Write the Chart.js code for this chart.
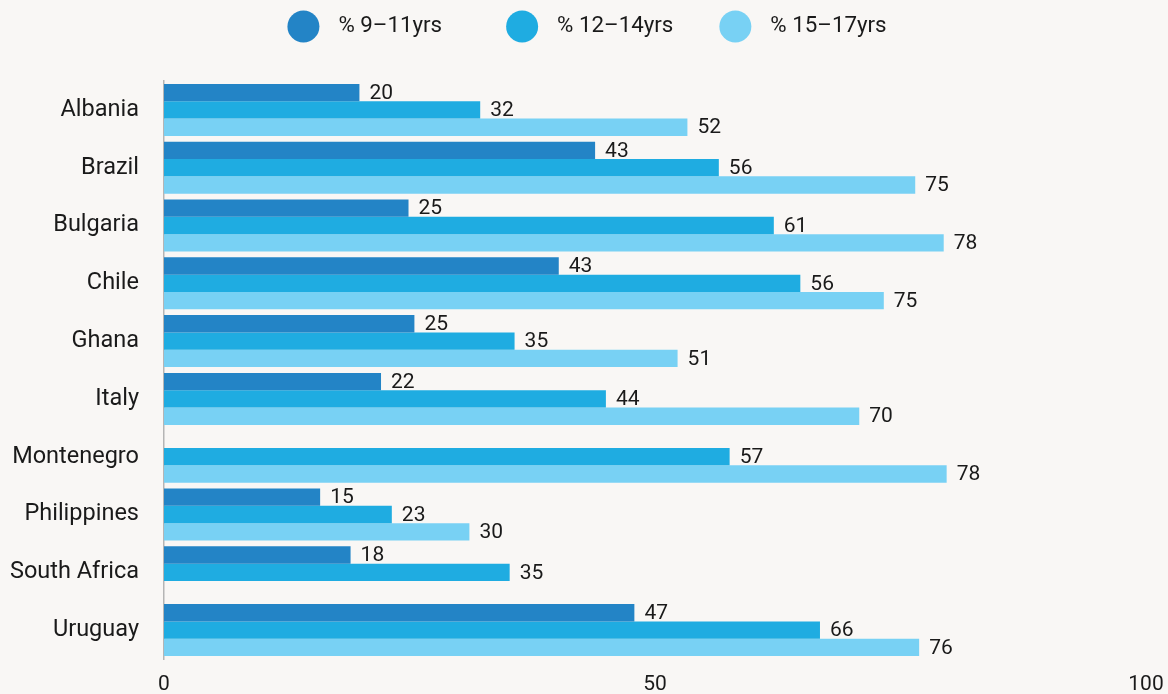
<!DOCTYPE html>
<html><head><meta charset="utf-8">
<script src="https://cdn.jsdelivr.net/npm/chart.js@4.4.1/dist/chart.umd.min.js"></script>
<style>
html,body{margin:0;padding:0;background:#f9f7f5;overflow:hidden;}
#wrap{width:1168px;height:694px;position:relative;}
</style>
</head><body>
<div id="wrap"><canvas id="c"></canvas></div>
<script>
const categories = ['Albania','Brazil','Bulgaria','Chile','Ghana','Italy','Montenegro','Philippines','South Africa','Uruguay'];
const seriesNames = ['% 9–11yrs','% 12–14yrs','% 15–17yrs'];
const seriesColors = ['#2384c6','#1face1','#78d1f4'];
// bar lengths as drawn in the picture
const values9to11  = [19.9, 43.9, 24.9, 40.2, 25.5, 22.1, null, 15.9, 19.0, 47.9];
const values12to14 = [32.2, 56.5, 62.1, 64.8, 35.7, 45.0, 57.6, 23.2, 35.2, 66.8];
const values15to17 = [53.3, 76.5, 79.4, 73.3, 52.3, 70.8, 79.7, 31.1, null, 76.9];
// numbers printed next to the bars
const labels9to11  = ['20','43','25','43','25','22',null,'15','18','47'];
const labels12to14 = ['32','56','61','56','35','44','57','23','35','66'];
const labels15to17 = ['52','75','78','75','51','70','78','30',null,'76'];
const xTicks = [0, 50, 100];

const FONT = 'Roboto';
const TEXT = '#1a1a1a';
const valueLabels = [labels9to11, labels12to14, labels15to17];

const valueLabelPlugin = {
  id: 'valueLabels',
  afterDatasetsDraw(chart) {
    const ctx = chart.ctx;
    ctx.save();
    ctx.font = '21px ' + FONT;
    ctx.fillStyle = TEXT;
    ctx.textAlign = 'left';
    ctx.textBaseline = 'middle';
    chart.data.datasets.forEach((ds, i) => {
      const meta = chart.getDatasetMeta(i);
      meta.data.forEach((el, j) => {
        const t = valueLabels[i][j];
        if (t == null || ds.data[j] == null) return;
        ctx.fillText(t, el.x + 10, el.y + 1);
      });
    });
    ctx.restore();
  }
};

const legendPlugin = {
  id: 'customLegend',
  afterDraw(chart) {
    const ctx = chart.ctx;
    ctx.save();
    ctx.font = '22.3px ' + FONT;
    const d = 32, gapText = 19, gaps = [64, 46];
    const widths = seriesNames.map(n => d + gapText + ctx.measureText(n).width);
    const total = widths.reduce((a, b) => a + b, 0) + gaps.reduce((a, b) => a + b, 0);
    let x = chart.width / 2 + 3 - total / 2;
    const cy = 26.5;
    seriesNames.forEach((n, i) => {
      ctx.fillStyle = seriesColors[i];
      ctx.beginPath();
      ctx.arc(x + d / 2, cy, d / 2, 0, Math.PI * 2);
      ctx.fill();
      ctx.fillStyle = TEXT;
      ctx.textAlign = 'left';
      ctx.textBaseline = 'middle';
      ctx.fillText(n, x + d + gapText, cy);
      x += widths[i] + (gaps[i] || 0);
    });
    ctx.restore();
  }
};

new Chart(document.getElementById('c'), {
  type: 'bar',
  data: {
    labels: categories,
    datasets: [
      { label: seriesNames[0], data: values9to11, backgroundColor: seriesColors[0] },
      { label: seriesNames[1], data: values12to14, backgroundColor: seriesColors[1] },
      { label: seriesNames[2], data: values15to17, backgroundColor: seriesColors[2] }
    ]
  },
  options: {
    indexAxis: 'y',
    responsive: true,
    maintainAspectRatio: false,
    animation: false,
    datasets: { bar: { categoryPercentage: 0.9, barPercentage: 1.0, borderWidth: 0 } },
    layout: { padding: { top: 81, right: 0, bottom: 2, left: 0 } },
    plugins: { legend: { display: false }, tooltip: { enabled: false } },
    scales: {
      x: {
        min: 0, max: 100,
        afterBuildTicks: s => { s.ticks = xTicks.map(v => ({ value: v })); },
        afterFit: s => { s.height = 33; s.paddingLeft = 0; s.paddingRight = 22; },
        grid: { display: false, drawTicks: false },
        border: { display: false },
        ticks: { color: TEXT, font: { family: FONT, size: 21 }, padding: 13, maxRotation: 0 }
      },
      y: {
        afterFit: s => { s.width = 164; s.paddingTop = 0; s.paddingBottom = 0; },
        grid: { display: false, drawTicks: false },
        border: { display: true, color: '#b5b5b5', width: 1.5 },
        ticks: { color: TEXT, font: { family: FONT, size: 23.5 }, padding: 25 }
      }
    }
  },
  plugins: [valueLabelPlugin, legendPlugin]
});
</script>
</body></html>
